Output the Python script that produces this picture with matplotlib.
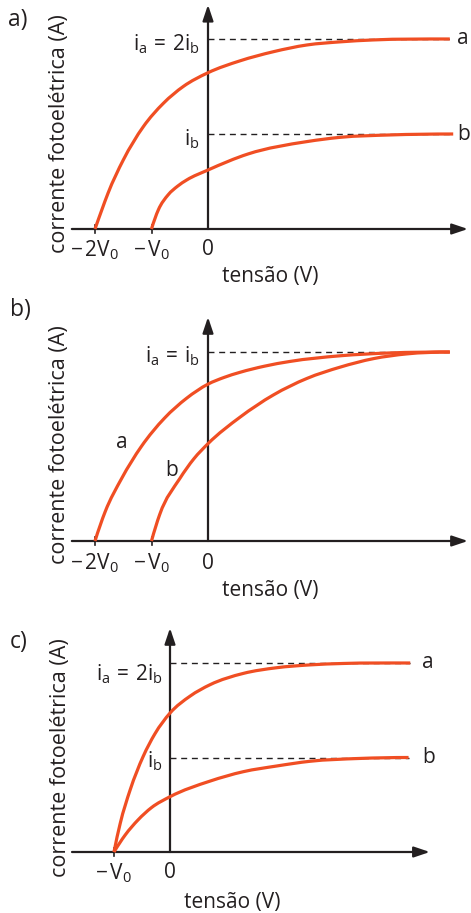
import numpy as np
import matplotlib
matplotlib.use("Agg")
import matplotlib.pyplot as plt
from matplotlib.path import Path
from matplotlib.patches import PathPatch

plt.rcParams["font.family"] = ["Open Sans", "DejaVu Sans"]
plt.rcParams["mathtext.fontset"] = "custom"
plt.rcParams["mathtext.rm"] = "Open Sans"
plt.rcParams["mathtext.it"] = "Open Sans:italic"
plt.rcParams["mathtext.bf"] = "Open Sans:bold"

# Voltage in units of V0, current in units of i_b (panels a, c) or half the
# common saturation current (panel b)
# --- panel a: same frequency, different intensity ---
pa_a_v = [-2.0, -1.88, -1.77, -1.50, -1.145, -0.79, -0.438, 0.0, 0.566, 1.156, 1.75, 2.34, 2.92, 4.28]
pa_a_i = [0.0, 0.2, 0.376, 0.726, 1.077, 1.323, 1.50, 1.645, 1.77, 1.866, 1.937, 1.97, 1.99, 2.0]
pa_b_v = [-1.0, -0.88, -0.705, -0.54, -0.377, 0.0, 0.71, 1.75, 2.34, 3.22, 4.34]
pa_b_i = [0.0, 0.2, 0.36, 0.45, 0.516, 0.621, 0.79, 0.92, 0.965, 0.99, 1.0]

# --- panel b: equal saturation current ---
pb_a_v = [-2.0, -1.82, -1.53, -1.18, -0.77, -0.38, 0.0, 0.28, 0.566, 1.0, 1.45, 2.34, 3.22, 4.28]
pb_a_i = [0.0, 0.31, 0.66, 1.00, 1.30, 1.51, 1.66, 1.73, 1.785, 1.85, 1.90, 1.96, 1.99, 2.0]
pb_b_v = [-1.0, -0.855, -0.50, -0.25, 0.0, 0.566, 1.156, 1.75, 2.34, 2.93, 3.52, 4.28]
pb_b_i = [0.0, 0.28, 0.66, 0.87, 1.03, 1.31, 1.545, 1.72, 1.84, 1.93, 1.98, 2.0]

# --- panel c: same stopping voltage ---
pc_a_v = [-1.0, -0.89, -0.71, -0.48, -0.27, 0.0, 0.36, 0.714, 1.31, 1.905, 2.5, 3.09, 4.29]
pc_a_i = [0.0, 0.30, 0.66, 1.01, 1.25, 1.47, 1.65, 1.77, 1.89, 1.95, 1.98, 1.995, 2.0]
pc_b_v = [-1.0, -0.80, -0.57, -0.33, 0.0, 0.714, 1.31, 1.905, 2.5, 3.39, 4.26]
pc_b_i = [0.0, 0.18, 0.34, 0.47, 0.585, 0.75, 0.85, 0.91, 0.96, 0.99, 1.0]

tick_labels_ab = [r"$-\,2\mathrm{V_0}$", r"$-\,\mathrm{V_0}$", "0"]
tick_values_ab = [-2, -1, 0]
tick_labels_c = [r"$-\,\mathrm{V_0}$", "0"]
tick_values_c = [-1, 0]

ORANGE = "#F04E23"
INK = "#231F20"
FS = 15
W, H = 471, 913

fig = plt.figure(figsize=(W / 100, H / 100), dpi=100)


def make_axes(y_top, y_bot, ox, oy, vpx, ipx):
    """Axes spanning the full width between two pixel rows, data scaled
    so that one V0 is vpx pixels and one current unit is ipx pixels."""
    ax = fig.add_axes([0, 1 - y_bot / H, 1, (y_bot - y_top) / H])
    ax.set_xlim(-ox / vpx, (W - ox) / vpx)
    ax.set_ylim((oy - y_bot) / ipx, (oy - y_top) / ipx)
    ax.axis("off")
    return ax


def smooth_curve(ax, v, i):
    """Piecewise cubic Bezier through the readings, tangents from
    three-point parabolas (Bessel)."""
    v = np.asarray(v, float)
    i = np.asarray(i, float)
    h = np.diff(v)
    s = np.diff(i) / h
    n = len(v)
    d = np.zeros(n)
    for k in range(1, n - 1):
        d[k] = (h[k] * s[k - 1] + h[k - 1] * s[k]) / (h[k - 1] + h[k])
    d[0] = ((2 * h[0] + h[1]) * s[0] - h[0] * s[1]) / (h[0] + h[1])
    d[-1] = max(0.0, ((2 * h[-1] + h[-2]) * s[-1] - h[-1] * s[-2]) / (h[-1] + h[-2]))
    verts = [(v[0], i[0])]
    codes = [Path.MOVETO]
    for k in range(n - 1):
        verts += [(v[k] + h[k] / 3, i[k] + d[k] * h[k] / 3),
                  (v[k + 1] - h[k] / 3, i[k + 1] - d[k + 1] * h[k] / 3),
                  (v[k + 1], i[k + 1])]
        codes += [Path.CURVE4] * 3
    ax.add_patch(PathPatch(Path(verts, codes), fill=False, edgecolor=ORANGE,
                           lw=2.3, capstyle="butt", zorder=4))


def arrow(ax, start, end):
    ax.annotate("", xy=end, xytext=start,
                arrowprops=dict(arrowstyle="-|>,head_length=0.95,head_width=0.32",
                                mutation_scale=10, lw=1.6, color=INK,
                                shrinkA=0, shrinkB=0), zorder=3)


def frame(ax, x0, x1, ytop, ticks, labels, tick_y):
    arrow(ax, (x0, 0), (x1, 0))
    arrow(ax, (0, 0), (0, ytop))
    for t in ticks:
        if t != 0:
            ax.plot([t, t], [-0.045, 0.045], color=INK, lw=1.2, zorder=3)
    for t, lab in zip(ticks, labels):
        ax.text(t, tick_y, lab, ha="center", va="center", fontsize=FS, color=INK)


def dashed(ax, x1, y):
    ax.plot([0, x1], [y, y], color=INK, lw=1.0, ls=(0, (4.3, 3.4)), zorder=2)


def ylabel(ax, x, y):
    ax.text(x, y, "corrente fotoelétrica (A)", rotation=90, ha="center",
            va="center", fontsize=15.5, color=INK)


# ---------------- panel a ----------------
ax = make_axes(0, 300, 208, 229, 56.5, 95)
frame(ax, -2.41, 4.60, 2.36, tick_values_ab, tick_labels_ab, -0.22)
dashed(ax, pa_a_v[-1], pa_a_i[-1])
dashed(ax, pa_b_v[-1], pa_b_i[-1])
smooth_curve(ax, pa_a_v, pa_a_i)
smooth_curve(ax, pa_b_v, pa_b_i)
ax.text(-0.14, 1.88, r"$\mathrm{i_a\,=\,2i_b}$", ha="right", va="baseline", fontsize=FS, color=INK)
ax.text(-0.14, 0.884, r"$\mathrm{i_b}$", ha="right", va="baseline", fontsize=FS, color=INK)
ax.text(4.41, pa_a_i[-1], "a", ha="left", va="center", fontsize=FS, color=INK)
ax.text(4.41, pa_b_i[-1], "b", ha="left", va="center", fontsize=FS, color=INK)
ax.text(1.10, -0.505, "tensão (V)", ha="center", va="center", fontsize=FS, color=INK)
ylabel(ax, -2.62, 1.0)
ax.text(-3.54, 2.2, "a)", ha="left", va="center", fontsize=16.5, color=INK)

# ---------------- panel b ----------------
ax = make_axes(300, 620, 208, 541, 56.5, 94.5)
frame(ax, -2.41, 4.60, 2.37, tick_values_ab, tick_labels_ab, -0.233)
dashed(ax, pb_a_v[-1], pb_a_i[-1])
smooth_curve(ax, pb_a_v, pb_a_i)
smooth_curve(ax, pb_b_v, pb_b_i)
ax.text(-0.14, 1.894, r"$\mathrm{i_a\,=\,i_b}$", ha="right", va="baseline", fontsize=FS, color=INK)
ax.text(-1.53, 1.04, "a", ha="center", va="center", fontsize=FS, color=INK)
ax.text(-0.64, 0.75, "b", ha="center", va="center", fontsize=FS, color=INK)
ax.text(1.10, -0.52, "tensão (V)", ha="center", va="center", fontsize=FS, color=INK)
ylabel(ax, -2.62, 1.02)
ax.text(-3.50, 2.44, "b)", ha="left", va="center", fontsize=16.5, color=INK)

# ---------------- panel c ----------------
ax = make_axes(620, 913, 170, 852, 56, 94.5)
frame(ax, -1.75, 4.64, 2.37, tick_values_c, tick_labels_c, -0.222)
dashed(ax, pc_a_v[-1], pc_a_i[-1])
dashed(ax, pc_b_v[-1], pc_b_i[-1])
smooth_curve(ax, pc_a_v, pc_a_i)
smooth_curve(ax, pc_b_v, pc_b_i)
ax.text(-0.125, 1.82, r"$\mathrm{i_a\,=\,2i_b}$", ha="right", va="baseline", fontsize=FS, color=INK)
ax.text(-0.125, 0.90, r"$\mathrm{i_b}$", ha="right", va="baseline", fontsize=FS, color=INK)
ax.text(4.50, pc_a_i[-1], "a", ha="left", va="center", fontsize=FS, color=INK)
ax.text(4.50, pc_b_i[-1], "b", ha="left", va="center", fontsize=FS, color=INK)
ax.text(1.107, -0.53, "tensão (V)", ha="center", va="center", fontsize=FS, color=INK)
ylabel(ax, -1.96, 0.995)
ax.text(-2.86, 2.22, "c)", ha="left", va="center", fontsize=16.5, color=INK)

fig.savefig("out.png", dpi=100)
